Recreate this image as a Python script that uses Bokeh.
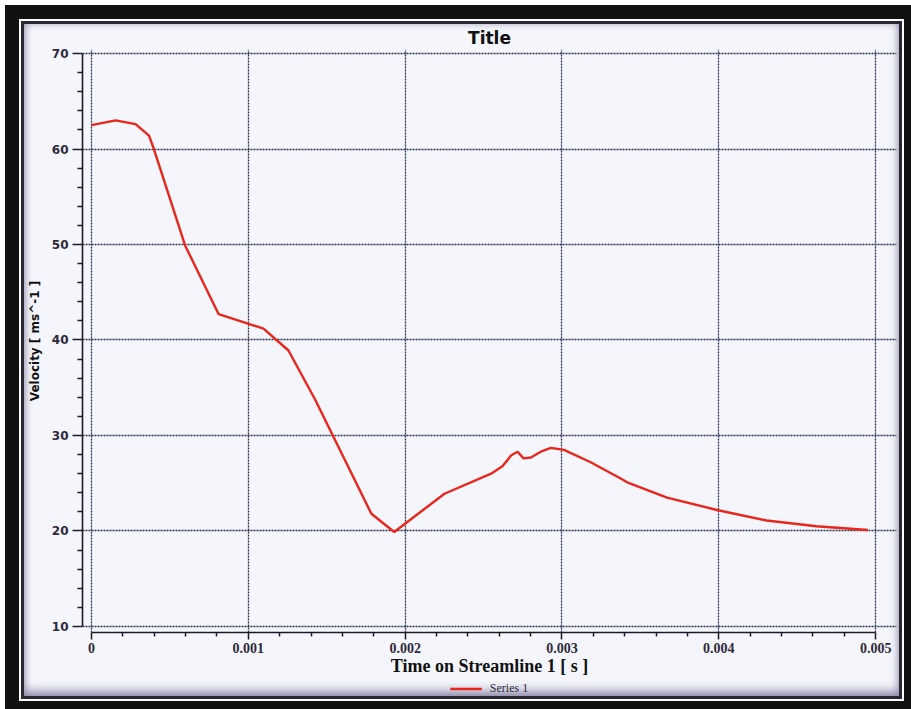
from bokeh.plotting import figure
from bokeh.layouts import column
from bokeh.models import FixedTicker, NumeralTickFormatter, Legend, LegendItem, Range1d
from bokeh.embed import file_html
from bokeh.resources import INLINE

# ---- data ----
time_s = [0.0, 0.000154, 0.000281, 0.000367, 0.000398, 0.000597, 0.000811,
          0.001097, 0.001256, 0.001425, 0.001785, 0.00193, 0.002251, 0.002548,
          0.002622, 0.002675, 0.002717, 0.002755, 0.002802, 0.002865, 0.002929,
          0.003013, 0.003183, 0.003374, 0.003416, 0.00367, 0.003988, 0.004305,
          0.004623, 0.004951]
velocity = [62.5, 63.0, 62.6, 61.4, 60.0, 49.9, 42.7,
            41.2, 38.9, 33.8, 21.8, 19.9, 23.9, 26.0,
            26.8, 27.9, 28.3, 27.6, 27.7, 28.3, 28.7,
            28.5, 27.2, 25.5, 25.1, 23.5, 22.2, 21.1,
            20.5, 20.1]

x_ticks = [0.0, 0.001, 0.002, 0.003, 0.004, 0.005]
x_minor = [0.0002, 0.0004, 0.0006, 0.0008, 0.0012, 0.0014, 0.0016, 0.0018,
           0.0022, 0.0024, 0.0026, 0.0028, 0.0032, 0.0034, 0.0036, 0.0038,
           0.0042, 0.0044, 0.0046, 0.0048]
y_ticks = [10, 20, 30, 40, 50, 60, 70]
y_minor = [12, 14, 16, 18, 22, 24, 26, 28, 32, 34, 36, 38, 42, 44, 46, 48,
           52, 54, 56, 58, 62, 64, 66, 68]

title_text = "Title"
x_label = "Time on Streamline 1 [ s ]"
y_label = "Velocity [ ms^-1 ]"
series_name = "Series 1"

SERIF = "Liberation Serif"
SANS = "DejaVu Sans"
INK = "#2e2a3a"
RED = "#e8261c"

p = figure(width=875, height=656, output_backend="svg", toolbar_location=None,
           x_range=Range1d(-0.0000572, 0.005133), y_range=Range1d(9.37, 70.42),
           min_border_left=55, min_border_right=3, min_border_top=25,
           min_border_bottom=48, title=title_text)
p.border_fill_color = None
p.background_fill_color = None
p.outline_line_color = None

p.title.align = "center"
p.title.text_font = SANS
p.title.text_font_size = "17px"
p.title.text_font_style = "bold"
p.title.text_color = "#111111"
p.title.standoff = 3
p.title.offset = 0

r = p.line(time_s, velocity, line_color=RED, line_width=2.4)

p.xaxis.ticker = FixedTicker(ticks=x_ticks, minor_ticks=x_minor)
p.yaxis.ticker = FixedTicker(ticks=y_ticks, minor_ticks=y_minor)
p.xgrid.ticker = FixedTicker(ticks=x_ticks)
p.ygrid.ticker = FixedTicker(ticks=y_ticks)
p.xaxis.formatter = NumeralTickFormatter(format="0.[000]")
p.xaxis.bounds = (0, 0.005)
p.yaxis.bounds = (10, 70)

for ax in (p.xaxis[0], p.yaxis[0]):
    ax.axis_line_color = "#1c1a26"
    ax.axis_line_width = 1.6
    ax.major_tick_line_color = "#1c1a26"
    ax.minor_tick_line_color = "#1c1a26"
    ax.major_tick_line_width = 1.5
    ax.minor_tick_line_width = 1.5
    ax.major_tick_in = 0
    ax.minor_tick_in = 0
    ax.major_label_text_font_style = "bold"
    ax.major_label_text_color = INK
    ax.axis_label_text_font_style = "bold"
    ax.axis_label_text_color = "#111111"

p.xaxis.major_label_text_font = SERIF
p.xaxis.major_label_text_font_size = "14px"
p.xaxis.major_tick_out = 7
p.xaxis.minor_tick_out = 4
p.xaxis.major_label_standoff = 3
p.xaxis.axis_label = x_label
p.xaxis.axis_label_text_font = SERIF
p.xaxis.axis_label_text_font_size = "18px"
p.xaxis.axis_label_standoff = 0

p.yaxis.major_label_text_font = SANS
p.yaxis.major_label_text_font_size = "12px"
p.yaxis.major_tick_out = 10
p.yaxis.minor_tick_out = 5
p.yaxis.major_label_standoff = 4
p.yaxis.axis_label = y_label
p.yaxis.axis_label_text_font = SANS
p.yaxis.axis_label_text_font_size = "12px"
p.yaxis.axis_label_standoff = 7

p.grid.grid_line_color = "#2c3350"
p.grid.grid_line_width = 1.3
p.grid.grid_line_dash = "2 1"

# legend strip below the chart: an axis-less figure whose frame lines up with
# the chart's frame; its line renderer's data fall outside its view, so only
# the legend entry is visible
lg = figure(width=875, height=16, output_backend="svg", toolbar_location=None,
            x_range=Range1d(0, 1), y_range=Range1d(0, 1),
            min_border_left=55, min_border_right=3, min_border_top=0,
            min_border_bottom=0)
lg.axis.visible = False
lg.grid.visible = False
lg.outline_line_color = None
lg.border_fill_color = None
lg.background_fill_color = None
lr = lg.line(time_s, velocity, line_color=RED, line_width=2.4)
legend = Legend(items=[LegendItem(label=series_name, renderers=[lr])],
                orientation="horizontal", location="center",
                border_line_alpha=0, background_fill_alpha=0,
                label_text_font=SERIF, label_text_font_size="12px",
                label_text_color=INK, glyph_width=32, glyph_height=12,
                label_height=12, padding=1, margin=0, spacing=4,
                label_standoff=8)
lg.add_layout(legend, "center")

layout = column(p, lg, spacing=0)
layout.margin = (24, 0, 0, 24)
layout.styles = {
    "background": "#f4f6fb",
    "box-shadow": "inset 0 -6px 10px rgba(70,60,110,0.45), inset 0 0 6px rgba(70,60,110,0.35), "
                  "0 0 0 3px #2a2833, 0 0 0 5px #ffffff, 0 0 0 19px #111111",
}

open("out.html", "w").write(file_html(layout, INLINE))
